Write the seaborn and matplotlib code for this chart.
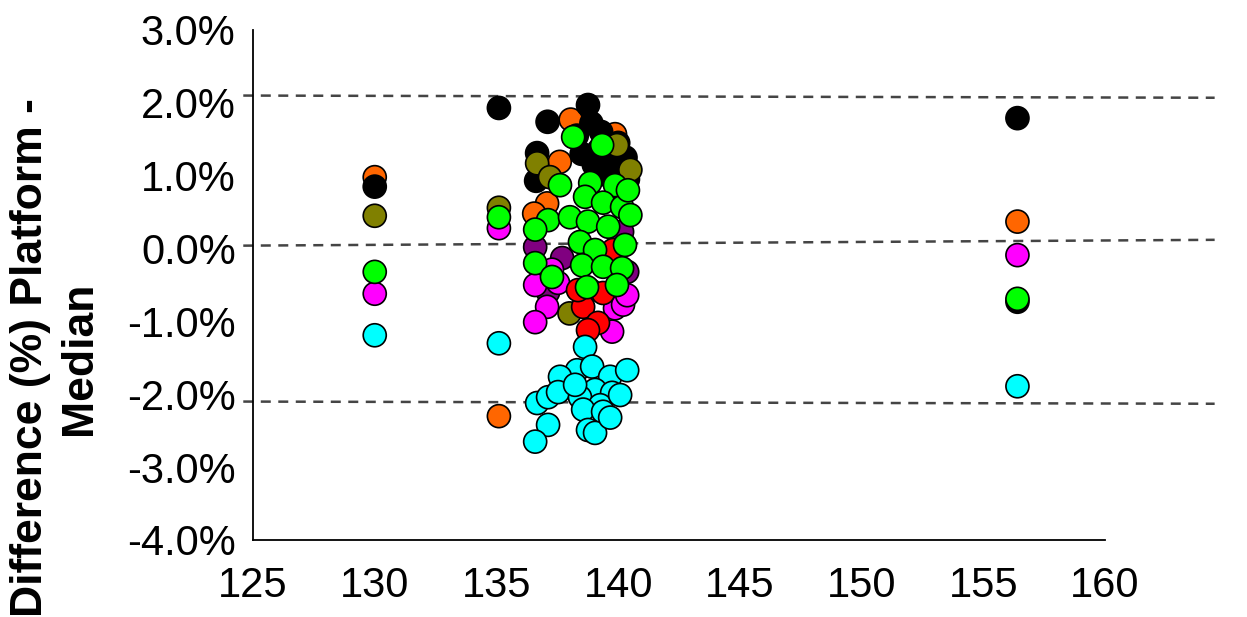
import matplotlib
matplotlib.use("Agg")
import matplotlib.pyplot as plt
import matplotlib.ticker as ticker
import numpy as np
import pandas as pd
import seaborn as sns

# values (x = median, y = difference in %)
black_x = [130.0, 135.1, 156.4, 156.4, 137.1, 138.76, 136.67, 136.63, 138.9, 139.3, 139.5,
           139.9, 140.2, 140.4, 139.0, 138.5, 140.1, 139.6, 140.3, 139.2, 138.3, 140.0]
black_y = [0.85, 1.93, 1.79, -0.73, 1.74, 1.97, 1.31, 0.93, 1.72, 1.60, 1.35,
           1.25, 1.10, 0.95, 1.15, 1.30, 0.80, 1.00, 1.25, 1.35, 1.55, 1.45]
orange_x = [130.0, 135.1, 156.4, 138.05, 139.87, 137.6, 137.08, 136.55]
orange_y = [0.98, -2.30, 0.37, 1.77, 1.57, 1.19, 0.62, 0.48]
olive_x = [130.0, 135.1, 136.67, 137.2, 139.95, 140.5, 138.0]
olive_y = [0.45, 0.56, 1.17, 0.98, 1.42, 1.08, -0.89]
purple_x = [136.59, 137.70, 137.12, 140.16, 140.37, 139.26, 138.85]
purple_y = [0.02, -0.13, -0.60, 0.23, -0.32, -0.09, -0.57]
magenta_x = [130.0, 135.1, 156.4, 136.59, 137.08, 136.59, 137.28, 139.87, 139.75, 140.2,
             140.37, 137.53]
magenta_y = [-0.62, 0.28, -0.09, -0.50, -0.80, -1.01, -0.29, -0.82, -1.14, -0.77,
             -0.64, -0.47]
red_x = [138.56, 139.17, 138.76, 138.35, 139.38, 139.79]
red_y = [-0.80, -1.02, -1.12, -0.57, -0.61, -0.02]
lime_x = [130.0, 135.1, 156.4, 138.15, 139.34, 137.61, 138.85, 139.87, 138.64, 139.38,
          140.16, 137.12, 138.02, 138.76, 139.59, 136.59, 138.43, 139.05, 140.28,
          136.59, 138.52, 139.38, 140.16, 137.28, 138.72, 139.95, 140.4, 140.5]
lime_y = [-0.32, 0.43, -0.69, 1.53, 1.42, 0.87, 0.90, 0.87, 0.71, 0.63,
          0.57, 0.39, 0.43, 0.37, 0.30, 0.26, 0.09, -0.02, 0.05,
          -0.20, -0.23, -0.25, -0.27, -0.39, -0.53, -0.50, 0.80, 0.46]
cyan_x = [130.0, 135.1, 156.4, 138.64, 138.31, 137.61, 138.93, 139.67, 140.37, 139.05,
          139.75, 136.67, 137.12, 137.53, 138.43, 139.26, 138.56, 139.38, 137.12,
          138.76, 139.05, 136.59, 139.67, 140.08, 138.23]
cyan_y = [-1.19, -1.30, -1.89, -1.35, -1.67, -1.76, -1.62, -1.76, -1.67, -1.94,
          -1.98, -2.12, -2.04, -1.97, -2.04, -2.15, -2.21, -2.24, -2.42,
          -2.49, -2.53, -2.65, -2.32, -2.01, -1.87]

# limit lines (upper, mean, lower)
limit_x = [124.6, 164.5]
upper_y = [2.10, 2.07]
mean_y = [0.04, 0.12]
lower_y = [-2.10, -2.13]

groups = [
    ("orange", orange_x, orange_y, "#FF6600"),
    ("black", black_x, black_y, "#000000"),
    ("olive", olive_x, olive_y, "#808000"),
    ("purple", purple_x, purple_y, "#800080"),
    ("magenta", magenta_x, magenta_y, "#FF00FF"),
    ("red", red_x, red_y, "#FF0000"),
    ("lime", lime_x, lime_y, "#00FF00"),
    ("cyan", cyan_x, cyan_y, "#00FFFF"),
]
frames = [pd.DataFrame({"median": xs, "diff": ys, "platform": name}) for name, xs, ys, _ in groups]
df = pd.concat(frames, ignore_index=True)
palette = {name: c for name, _, _, c in groups}

sns.set_style("white")
plt.rcParams["font.family"] = ["Liberation Sans", "DejaVu Sans"]
plt.rcParams["axes.unicode_minus"] = False
plt.rcParams["text.color"] = "black"
plt.rcParams["xtick.color"] = "black"
plt.rcParams["ytick.color"] = "black"

fig = plt.figure(figsize=(12.47, 6.17), dpi=100)
ax = fig.add_axes([0.2029, 0.1248, 0.6833, 0.8266])

for ys in (upper_y, mean_y, lower_y):
    ax.plot(limit_x, ys, color="#444444", lw=1.8, ls=(0, (4, 3)), clip_on=False, zorder=1)

sns.scatterplot(data=df, x="median", y="diff", hue="platform", palette=palette,
                s=275, edgecolor="black", linewidth=1.2, legend=False, ax=ax, zorder=3)

ax.set_xlim(125, 160)
ax.set_ylim(-4, 3)
ax.set_xticks(np.arange(125, 161, 5))
ax.set_yticks(np.arange(-4, 3.1, 1))
ax.yaxis.set_major_formatter(ticker.PercentFormatter(decimals=1))
ax.set_xlabel("")
ax.set_ylabel("")

for s in ("top", "right"):
    ax.spines[s].set_visible(False)
for s in ("left", "bottom"):
    ax.spines[s].set_color("black")
    ax.spines[s].set_linewidth(1.3)

ax.tick_params(axis="both", which="major", direction="out", length=9.5, width=1.1,
               colors="black", labelsize=30, pad=3)
ax.tick_params(axis="x", pad=9)

fig.text(0.0445, 0.42, "Difference (%) Platform -\nMedian", rotation=90, ha="center", va="center",
         fontsize=32, fontweight="bold", linespacing=1.25, multialignment="center")

fig.savefig("out.png", dpi=100)
